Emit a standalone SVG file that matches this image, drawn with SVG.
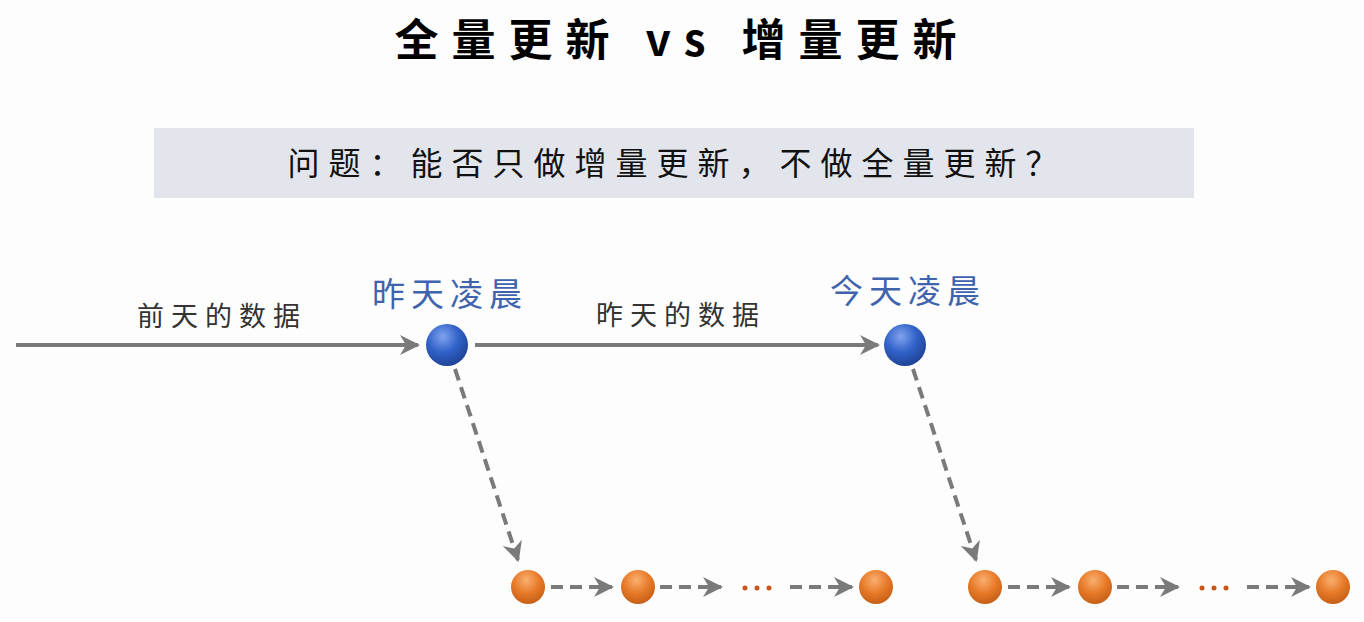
<svg xmlns="http://www.w3.org/2000/svg" width="1364" height="622" viewBox="0 0 1364 622">
<style>
text{font-family:"Noto Sans CJK SC","Liberation Sans",sans-serif;text-anchor:middle}
.lbl{font-size:27px;fill:#333;letter-spacing:7px}
.blue{font-size:33px;fill:#3f64ad;letter-spacing:6px}
.ln{stroke:#7a7a7a;stroke-width:4;fill:none}
.ds{stroke:#7a7a7a;stroke-width:4;fill:none;stroke-dasharray:12 7}
</style>
<defs>
<radialGradient id="gb" cx="0.4" cy="0.3" r="0.75"><stop offset="0" stop-color="#7fa3ee"/><stop offset="0.5" stop-color="#3262c8"/><stop offset="1" stop-color="#1c3f90"/></radialGradient>
<radialGradient id="go" cx="0.45" cy="0.3" r="0.75"><stop offset="0" stop-color="#f9b070"/><stop offset="0.5" stop-color="#e87b2a"/><stop offset="1" stop-color="#c05a12"/></radialGradient>
<marker id="ah" viewBox="0 0 10 10" refX="9" refY="5" markerWidth="5" markerHeight="5" orient="auto" markerUnits="strokeWidth"><path d="M0,0 L10,5 L0,10 L3,5 Z" fill="#7a7a7a"/></marker>
</defs>
<rect width="1364" height="622" fill="#fdfdfd"/>
<text x="682" y="56" font-size="44" font-weight="bold" fill="#000" letter-spacing="13">全量更新 vs 增量更新</text>
<rect x="154" y="128" width="1040" height="70" fill="#e2e6ec"/>
<text x="677" y="175" font-size="32" fill="#111" letter-spacing="9">问题：能否只做增量更新，不做全量更新？</text>
<text class="lbl" x="222" y="326">前天的数据</text>
<text class="lbl" x="681" y="325">昨天的数据</text>
<text class="blue" x="450" y="306">昨天凌晨</text>
<text class="blue" x="908" y="303">今天凌晨</text>
<g id="connectors">
<line class="ln" x1="16" y1="345" x2="418" y2="345" marker-end="url(#ah)"/>
<line class="ln" x1="475" y1="345" x2="878" y2="345" marker-end="url(#ah)"/>
<line class="ds" x1="455" y1="369" x2="518" y2="560" marker-end="url(#ah)"/>
<line class="ds" x1="913" y1="369" x2="976" y2="560" marker-end="url(#ah)"/>
<line class="ds" x1="551" y1="587" x2="612" y2="587" marker-end="url(#ah)"/>
<line class="ds" x1="660" y1="587" x2="721" y2="587" marker-end="url(#ah)"/>
<line class="ds" x1="790" y1="587" x2="852" y2="587" marker-end="url(#ah)"/>
<line class="ds" x1="1008" y1="587" x2="1069" y2="587" marker-end="url(#ah)"/>
<line class="ds" x1="1117" y1="587" x2="1178" y2="587" marker-end="url(#ah)"/>
<line class="ds" x1="1247" y1="587" x2="1309" y2="587" marker-end="url(#ah)"/>
</g>
<g id="b1"><circle cx="447" cy="345" r="21" fill="url(#gb)"/></g>
<g id="b2"><circle cx="905" cy="345" r="21" fill="url(#gb)"/></g>
<g id="o1"><circle cx="528" cy="587" r="17" fill="url(#go)"/></g>
<g id="o2"><circle cx="638" cy="587" r="17" fill="url(#go)"/></g>
<g id="o3"><circle cx="876" cy="587" r="17" fill="url(#go)"/></g>
<g id="o4"><circle cx="985" cy="587" r="17" fill="url(#go)"/></g>
<g id="o5"><circle cx="1095" cy="587" r="17" fill="url(#go)"/></g>
<g id="o6"><circle cx="1333" cy="587" r="17" fill="url(#go)"/></g>
<g fill="#c8561a"><circle cx="745" cy="588" r="2.5"/><circle cx="757" cy="588" r="2.5"/><circle cx="769" cy="588" r="2.5"/><circle cx="1202" cy="588" r="2.5"/><circle cx="1214" cy="588" r="2.5"/><circle cx="1226" cy="588" r="2.5"/></g>
</svg>
